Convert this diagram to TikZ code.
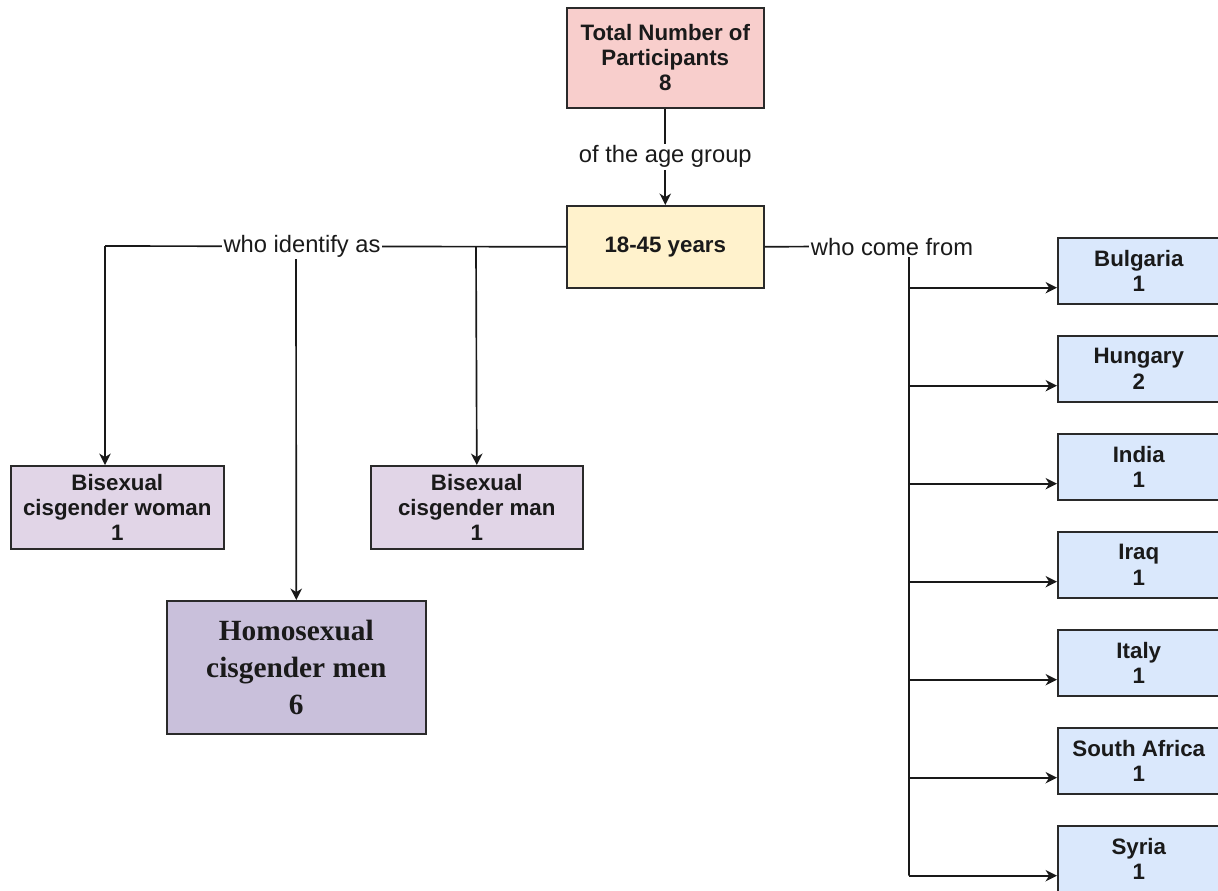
\documentclass[tikz,border=0pt]{standalone}
\usepackage{fontspec}
\setmainfont{Liberation Sans}
\newfontfamily\serifgar{Liberation Serif}
\usetikzlibrary{arrows.meta,calc}
\definecolor{strokec}{HTML}{2A2A2A}
\definecolor{textc}{HTML}{1A1A1A}
\definecolor{pinkf}{HTML}{F8CECC}
\definecolor{yellowf}{HTML}{FFF2CC}
\definecolor{lilacf}{HTML}{E1D5E7}
\definecolor{purplef}{HTML}{C9C0DB}
\definecolor{bluef}{HTML}{DAE8FC}
\tikzset{
  box/.style={draw=strokec, line width=0.9pt, rectangle, anchor=north west, align=center, inner sep=0pt,
    text=textc, font=\fontsize{12.7}{14.3}\selectfont\bfseries},
  conn/.style={draw=black!90, line width=0.95pt},
  arr/.style={conn, -{Stealth[length=6.5pt,width=6.5pt,inset=2pt]}},
  lbl/.style={fill=white, inner sep=1pt, text=textc, font=\fontsize{13.5}{15}\selectfont},
}
\begin{document}
\begin{tikzpicture}[x=0.02cm,y=-0.02cm]
\useasboundingbox (0,0) rectangle (1218,890);
% nodes
\node[box, fill=pinkf, minimum width=197*0.02cm, minimum height=100*0.02cm] (tot) at (566,7) {Total Number of\\Participants\\8};
\node[box, fill=yellowf, minimum width=197*0.02cm, minimum height=82*0.02cm] (age) at (566,205) {18-45 years};
\node[box, fill=lilacf, minimum width=213*0.02cm, minimum height=83*0.02cm] (bw) at (10,465) {Bisexual\\cisgender woman\\1};
\node[box, fill=lilacf, minimum width=212*0.02cm, minimum height=83*0.02cm] (bm) at (370,465) {Bisexual\\cisgender man\\1};
\node[box, fill=purplef, minimum width=259*0.02cm, minimum height=133*0.02cm,
  font=\serifgar\bfseries\fontsize{16.7}{21}\selectfont] (hom) at (166,600) {Homosexual\\cisgender men\\6};
\foreach \n/\t/\c/\v in {bul/237/Bulgaria/1, hun/335/Hungary/2, ind/433/India/1, irq/531/Iraq/1, ita/629/Italy/1, saf/727/South Africa/1, syr/825/Syria/1}{
  \node[box, fill=bluef, minimum width=162*0.02cm, minimum height=66*0.02cm] (\n) at (1057,\t) {\c\\\v};
}
% connectors
\coordinate (lc) at (105,246);
\coordinate (hb) at (296,246);
\coordinate (mb) at (476,246);
\coordinate (rc) at (909,246);
\coordinate (rb) at ($(syr.south west)!0.25!(syr.north west)$);
\draw[arr] (tot.south) -- (age.north) node[lbl, pos=0.5] {of the age group};
\draw[conn] (age.west) -- (lc);
\draw[arr] (lc) -- (lc |- bw.north);
\draw[arr] (hb) -- (hom.north);
\draw[arr] (mb) -- (bm.north);
\node[lbl] (lblL) at (302,246) {who identify as};
\draw[conn] (age.east) -- (rc) -- (rc |- rb);
\foreach \n in {bul,hun,ind,irq,ita,saf,syr}{
  \coordinate (\n-in) at ($(\n.south west)!0.25!(\n.north west)$);
  \draw[arr] (rc |- \n-in) -- (\n-in);
}
\node[lbl] (lblR) at (892,247) {who come from};
\end{tikzpicture}
\end{document}
